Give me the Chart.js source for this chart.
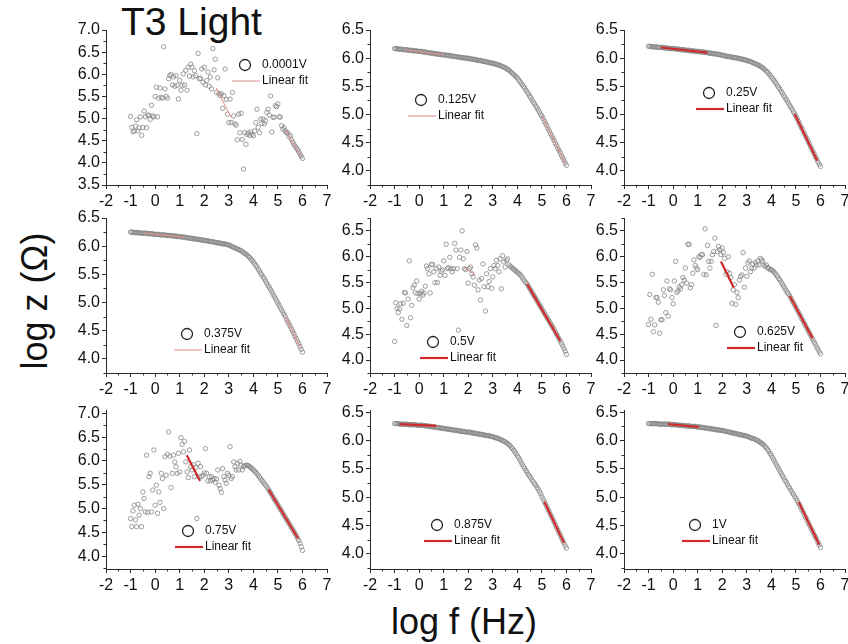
<!DOCTYPE html>
<html>
<head>
<meta charset="utf-8">
<script src="https://cdn.jsdelivr.net/npm/chart.js@4.4.1/dist/chart.umd.min.js"></script>
<style>
  html, body { margin: 0; padding: 0; background: #fff; }
  #page { position: relative; width: 848px; height: 644px; overflow: hidden;
          font-family: "Liberation Sans", Arial, sans-serif; color: #111; }
  .lbl { position: absolute; white-space: nowrap; line-height: 1; }
</style>
</head>
<body>
<div id="page">
  <div class="lbl" style="left:121px; top:2px; font-size:39px;">T3 Light</div>
  <div class="lbl" style="left:35px; top:301px; font-size:36px; transform:translate(-50%,-50%) rotate(-90deg);">log z (Ω)</div>
  <div class="lbl" style="left:464px; top:622px; font-size:36px; transform:translate(-50%,-50%);">log f (Hz)</div>
</div>
<script>
// ---- measured impedance, log10 |Z| versus log10 f, one array per bias voltage ----
const logF = [
  -1,-0.95,-0.9,-0.85,-0.8,-0.75,-0.7,-0.65,-0.6,-0.55,-0.5,-0.45,-0.4,-0.35,-0.3,-0.25,-0.2,-0.15,-0.1,-0.05,
  0,0.05,0.1,0.15,0.2,0.25,0.3,0.35,0.4,0.45,0.5,0.55,0.6,0.65,0.7,0.75,0.8,0.85,0.9,0.95,
  1,1.05,1.1,1.15,1.2,1.25,1.3,1.35,1.4,1.45,1.5,1.55,1.6,1.65,1.7,1.75,1.8,1.85,1.9,1.95,
  2,2.05,2.1,2.15,2.2,2.25,2.3,2.35,2.4,2.45,2.5,2.55,2.6,2.65,2.7,2.75,2.8,2.85,2.9,2.95,
  3,3.05,3.1,3.15,3.2,3.25,3.3,3.35,3.4,3.45,3.5,3.55,3.6,3.65,3.7,3.75,3.8,3.85,3.9,3.95,
  4,4.05,4.1,4.15,4.2,4.25,4.3,4.35,4.4,4.45,4.5,4.55,4.6,4.65,4.7,4.75,4.8,4.85,4.9,4.95,
  5,5.05,5.1,5.15,5.2,5.25,5.3,5.35,5.4,5.45,5.5,5.55,5.6,5.65,5.7,5.75,5.8,5.85,5.9,5.95,
  6
];

const logZ_0p0001V = [
  5.05,4.80,4.70,4.72,4.83,4.97,4.72,4.79,5.04,4.62,4.80,5.17,5.04,4.79,5.08,5.07,4.98,5.30,5.06,5.04,
  5.50,5.71,5.04,5.46,5.69,5.48,5.46,6.62,5.67,5.50,5.46,5.90,5.97,6.00,5.76,5.94,5.73,5.97,5.75,5.44,
  5.86,5.64,5.75,6.01,5.76,6.09,5.64,6.16,5.96,6.23,6.16,5.94,6.08,5.97,4.66,6.47,5.90,5.91,6.12,5.82,
  6.16,5.76,5.86,6.05,5.73,5.94,5.67,6.58,6.10,6.34,5.59,5.92,5.56,5.52,5.56,5.23,5.52,6.12,5.43,5.10,
  4.91,5.44,4.91,5.59,5.06,4.88,4.85,4.52,5.10,4.68,5.12,4.53,3.86,4.68,4.42,4.64,4.68,4.62,4.70,4.64,
  4.61,4.72,4.91,5.21,4.80,4.68,4.99,4.89,4.99,4.88,4.95,5.14,5.21,5.08,5.51,4.70,5.03,5.03,5.29,5.27,
  5.33,5.04,5.03,4.84,4.76,4.80,4.72,4.68,4.68,4.59,4.62,4.53,4.47,4.42,4.38,4.34,4.30,4.25,4.20,4.15,
  4.10
];
const logZ_0p125V = [
  6.17,6.17,6.17,6.16,6.16,6.16,6.16,6.15,6.15,6.15,6.15,6.14,6.14,6.14,6.14,6.13,6.13,6.13,6.13,6.12,
  6.12,6.12,6.12,6.11,6.11,6.11,6.10,6.10,6.10,6.09,6.09,6.09,6.08,6.08,6.08,6.07,6.07,6.07,6.06,6.06,
  6.06,6.06,6.05,6.05,6.05,6.04,6.04,6.04,6.03,6.03,6.03,6.02,6.02,6.02,6.01,6.01,6.01,6.00,6.00,6.00,
  6.00,5.99,5.99,5.98,5.98,5.98,5.97,5.97,5.96,5.96,5.96,5.95,5.95,5.94,5.94,5.93,5.93,5.92,5.92,5.91,
  5.91,5.90,5.90,5.89,5.88,5.88,5.87,5.86,5.85,5.84,5.83,5.82,5.80,5.79,5.77,5.75,5.73,5.71,5.69,5.67,
  5.65,5.62,5.59,5.56,5.53,5.50,5.47,5.43,5.40,5.37,5.33,5.30,5.26,5.22,5.19,5.15,5.12,5.08,5.04,5.00,
  4.97,4.93,4.88,4.84,4.80,4.75,4.71,4.66,4.62,4.58,4.54,4.49,4.45,4.40,4.36,4.32,4.27,4.23,4.19,4.14,
  4.10
];
const logZ_0p25V = [
  6.21,6.21,6.21,6.20,6.20,6.20,6.20,6.20,6.19,6.19,6.19,6.19,6.19,6.18,6.18,6.18,6.18,6.17,6.17,6.17,
  6.17,6.17,6.16,6.16,6.16,6.16,6.15,6.15,6.15,6.15,6.14,6.14,6.14,6.14,6.13,6.13,6.13,6.13,6.12,6.12,
  6.12,6.12,6.11,6.11,6.11,6.11,6.10,6.10,6.10,6.09,6.09,6.09,6.08,6.08,6.08,6.07,6.07,6.07,6.06,6.06,
  6.05,6.05,6.04,6.04,6.03,6.03,6.03,6.02,6.02,6.01,6.01,6.01,6.00,6.00,5.99,5.99,5.98,5.98,5.97,5.97,
  5.96,5.95,5.95,5.94,5.93,5.92,5.91,5.90,5.89,5.88,5.87,5.86,5.84,5.83,5.81,5.79,5.77,5.75,5.72,5.70,
  5.67,5.64,5.61,5.58,5.55,5.51,5.48,5.45,5.41,5.38,5.34,5.31,5.27,5.24,5.20,5.16,5.13,5.09,5.05,5.01,
  4.97,4.93,4.88,4.84,4.79,4.75,4.70,4.66,4.61,4.57,4.52,4.48,4.43,4.39,4.34,4.30,4.25,4.21,4.16,4.12,
  4.08
];
const logZ_0p375V = [
  6.25,6.25,6.25,6.24,6.24,6.24,6.24,6.24,6.23,6.23,6.23,6.23,6.23,6.23,6.22,6.22,6.22,6.22,6.22,6.21,
  6.21,6.21,6.21,6.21,6.20,6.20,6.20,6.20,6.20,6.19,6.19,6.19,6.19,6.19,6.18,6.18,6.18,6.18,6.17,6.17,
  6.17,6.17,6.16,6.16,6.16,6.15,6.15,6.15,6.14,6.14,6.14,6.13,6.13,6.13,6.12,6.12,6.12,6.11,6.11,6.11,
  6.10,6.10,6.10,6.09,6.09,6.08,6.08,6.08,6.07,6.07,6.06,6.06,6.06,6.05,6.05,6.04,6.04,6.04,6.03,6.03,
  6.02,6.01,6.00,5.99,5.98,5.97,5.96,5.95,5.94,5.93,5.92,5.90,5.89,5.87,5.86,5.84,5.82,5.80,5.77,5.75,
  5.72,5.69,5.66,5.63,5.59,5.56,5.52,5.49,5.45,5.42,5.38,5.34,5.30,5.27,5.23,5.19,5.15,5.11,5.07,5.03,
  4.99,4.95,4.91,4.87,4.83,4.79,4.75,4.70,4.66,4.62,4.58,4.53,4.49,4.45,4.40,4.36,4.31,4.27,4.22,4.17,
  4.12
];
const logZ_0p5V = [
  4.36,5.11,5.00,4.92,4.99,5.09,4.79,5.10,5.31,5.30,4.67,5.18,5.92,4.82,5.06,5.40,5.45,5.30,5.53,5.29,
  5.18,5.29,5.33,5.26,5.30,5.43,5.82,5.77,5.67,5.30,5.85,5.85,5.71,5.50,5.77,5.50,5.80,5.64,5.72,5.75,
  5.92,5.64,6.24,5.77,5.79,5.99,5.77,5.71,5.77,6.26,6.13,5.77,4.58,5.99,6.13,6.50,5.96,5.77,5.75,6.10,
  5.49,5.77,5.80,5.67,5.61,5.45,6.23,6.17,5.36,5.55,5.16,5.58,5.86,5.42,4.95,5.67,5.42,5.52,5.77,5.39,
  5.61,5.83,5.77,5.93,5.83,5.71,5.96,5.38,6.02,5.90,5.80,5.93,5.96,5.85,5.82,5.80,5.78,5.76,5.74,5.72,
  5.70,5.68,5.66,5.63,5.60,5.56,5.53,5.50,5.47,5.43,5.39,5.35,5.31,5.27,5.23,5.19,5.15,5.11,5.07,5.03,
  4.99,4.95,4.91,4.87,4.83,4.79,4.75,4.71,4.67,4.63,4.59,4.54,4.50,4.46,4.41,4.37,4.32,4.27,4.22,4.17,
  4.11
];
const logZ_0p625V = [
  4.69,5.27,4.79,5.66,4.55,4.68,5.21,5.21,5.12,4.52,4.78,4.78,5.36,5.25,4.92,5.53,4.85,5.38,5.36,5.21,
  5.09,5.53,5.91,5.31,5.34,5.42,5.38,5.46,5.60,5.55,5.78,5.49,6.24,6.24,5.40,5.46,5.68,5.94,5.83,5.78,
  5.75,6.00,5.99,6.04,6.04,5.66,6.54,5.65,6.22,5.91,5.78,5.91,6.04,6.10,6.36,4.67,6.10,6.20,6.14,6.04,
  6.17,6.08,5.97,5.66,5.71,6.00,5.68,5.60,5.10,5.36,5.46,5.08,5.31,5.21,5.55,5.62,5.65,6.08,5.41,5.78,
  5.62,5.88,5.92,5.71,5.78,5.86,5.78,5.89,5.84,5.92,5.84,5.97,5.94,5.91,5.84,5.81,5.84,5.78,5.78,5.75,
  5.75,5.73,5.71,5.68,5.65,5.62,5.58,5.55,5.51,5.47,5.43,5.39,5.35,5.31,5.28,5.24,5.20,5.15,5.11,5.06,
  5.02,4.97,4.93,4.88,4.84,4.79,4.75,4.70,4.66,4.61,4.57,4.52,4.48,4.43,4.39,4.34,4.30,4.25,4.21,4.16,
  4.12
];
const logZ_0p75V = [
  4.79,4.62,4.95,5.07,4.76,4.62,5.09,4.86,5.00,4.62,5.35,5.21,4.93,6.12,4.92,5.67,5.74,4.93,5.39,6.23,
  5.07,5.49,4.90,5.35,5.13,5.74,5.63,5.00,6.09,5.70,6.14,6.61,6.10,5.44,5.74,6.12,5.98,5.88,5.74,6.16,
  5.77,6.49,6.35,6.19,6.41,5.98,5.77,5.65,6.23,5.88,5.81,5.92,5.67,5.86,4.79,5.95,5.67,5.88,5.67,5.70,
  5.75,6.26,5.74,5.58,5.67,5.58,5.67,5.60,5.63,5.55,5.62,5.81,5.49,5.42,5.34,5.84,5.67,5.60,5.53,5.74,
  5.70,6.30,5.63,5.67,5.98,5.88,5.81,5.95,5.81,5.99,5.91,5.81,5.88,5.90,5.91,5.91,5.90,5.88,5.86,5.84,
  5.81,5.79,5.76,5.73,5.70,5.66,5.62,5.59,5.56,5.52,5.49,5.46,5.41,5.37,5.33,5.29,5.24,5.20,5.16,5.12,
  5.07,5.03,4.99,4.95,4.90,4.86,4.82,4.77,4.73,4.69,4.65,4.60,4.56,4.52,4.47,4.43,4.38,4.33,4.27,4.20,
  4.12
];
const logZ_0p875V = [
  6.30,6.30,6.30,6.30,6.29,6.29,6.29,6.29,6.29,6.29,6.29,6.28,6.28,6.28,6.28,6.28,6.28,6.28,6.27,6.27,
  6.27,6.27,6.27,6.27,6.26,6.26,6.26,6.26,6.25,6.25,6.25,6.24,6.24,6.24,6.23,6.23,6.23,6.22,6.22,6.22,
  6.21,6.21,6.21,6.20,6.20,6.20,6.19,6.19,6.19,6.18,6.18,6.18,6.17,6.17,6.17,6.16,6.16,6.16,6.15,6.15,
  6.15,6.15,6.14,6.14,6.13,6.13,6.13,6.12,6.12,6.11,6.11,6.11,6.10,6.10,6.09,6.09,6.09,6.08,6.08,6.07,
  6.07,6.06,6.05,6.05,6.04,6.03,6.02,6.01,6.00,5.99,5.98,5.96,5.95,5.93,5.91,5.88,5.86,5.83,5.80,5.77,
  5.73,5.70,5.66,5.62,5.58,5.54,5.51,5.47,5.44,5.40,5.37,5.34,5.30,5.27,5.24,5.21,5.17,5.14,5.10,5.06,
  5.01,4.97,4.92,4.88,4.83,4.78,4.74,4.69,4.65,4.60,4.56,4.51,4.46,4.42,4.37,4.33,4.28,4.23,4.19,4.14,
  4.10
];
const logZ_1V = [
  6.30,6.30,6.30,6.30,6.30,6.30,6.30,6.30,6.29,6.29,6.29,6.29,6.29,6.29,6.29,6.29,6.29,6.29,6.28,6.28,
  6.28,6.28,6.28,6.28,6.27,6.27,6.27,6.27,6.27,6.26,6.26,6.26,6.26,6.26,6.25,6.25,6.25,6.25,6.25,6.24,
  6.24,6.24,6.24,6.23,6.23,6.23,6.22,6.22,6.22,6.21,6.21,6.21,6.20,6.20,6.20,6.19,6.19,6.19,6.18,6.18,
  6.18,6.17,6.17,6.16,6.16,6.15,6.15,6.14,6.14,6.13,6.13,6.12,6.12,6.11,6.11,6.10,6.10,6.09,6.09,6.08,
  6.08,6.07,6.06,6.05,6.04,6.04,6.03,6.02,6.01,6.00,5.98,5.97,5.95,5.94,5.92,5.89,5.87,5.84,5.81,5.77,
  5.74,5.70,5.66,5.62,5.58,5.54,5.50,5.46,5.42,5.38,5.34,5.30,5.27,5.23,5.19,5.16,5.12,5.08,5.05,5.01,
  4.98,4.94,4.90,4.86,4.82,4.77,4.73,4.68,4.64,4.60,4.55,4.51,4.46,4.42,4.38,4.33,4.29,4.25,4.20,4.16,
  4.11
];

const voltageLabels = ['0.0001V', '0.125V', '0.25V', '0.375V', '0.5V', '0.625V', '0.75V', '0.875V', '1V'];

// linear-fit segments, each [logF start, logZ start, logF end, logZ end]
const fit_0p0001V = [[2.49, 5.69, 3.10, 5.02], [5.33, 4.72, 5.94, 4.13]];
const fit_0p125V  = [[-0.55, 6.14, 1.00, 6.06], [5.00, 4.97, 5.95, 4.14]];
const fit_0p25V   = [[-0.50, 6.19, 1.40, 6.10], [4.95, 5.01, 5.87, 4.18]];
const fit_0p375V  = [[-0.42, 6.23, 1.20, 6.16], [5.30, 4.75, 5.90, 4.22]];
const fit_0p5V    = [[1.85, 5.78, 2.25, 5.66], [4.40, 5.47, 5.75, 4.37]];
const fit_0p625V  = [[1.95, 5.91, 2.47, 5.40], [4.75, 5.24, 5.68, 4.42]];
const fit_0p75V   = [[1.29, 6.12, 1.83, 5.58], [4.62, 5.40, 5.82, 4.37]];
const fit_0p875V  = [[-0.80, 6.29, 0.70, 6.26], [5.10, 4.92, 5.90, 4.19]];
const fit_1V      = [[-0.20, 6.29, 1.05, 6.24], [5.12, 4.91, 5.95, 4.16]];

// tick labels
const xTickLabels = [-2, -1, 0, 1, 2, 3, 4, 5, 6, 7];
const yTicks35to70 = [3.5, 4.0, 4.5, 5.0, 5.5, 6.0, 6.5, 7.0];
const yTicks40to65 = [4.0, 4.5, 5.0, 5.5, 6.0, 6.5];
const yTicks40to70 = [4.0, 4.5, 5.0, 5.5, 6.0, 6.5, 7.0];

// axis ranges (log z) per panel, and the shared log f range
const yMin = [3.5, 3.75, 3.75, 3.75, 3.75, 3.75, 3.73, 3.73, 3.73];
const yMax = [7.0, 6.5, 6.5, 6.5, 6.75, 6.75, 7.07, 6.54, 6.54];
const xMin = -2, xMax = 7;

const series = [logZ_0p0001V, logZ_0p125V, logZ_0p25V, logZ_0p375V, logZ_0p5V,
                logZ_0p625V, logZ_0p75V, logZ_0p875V, logZ_1V];
const fits = [fit_0p0001V, fit_0p125V, fit_0p25V, fit_0p375V, fit_0p5V,
              fit_0p625V, fit_0p75V, fit_0p875V, fit_1V];
const yTickSets = [yTicks35to70, yTicks40to65, yTicks40to65, yTicks40to65, yTicks40to65,
                   yTicks40to65, yTicks40to70, yTicks40to65, yTicks40to65];

// ---- layout and styling ----
const COL_LEFT = [106, 370, 624];
const ROW_TOP = [30, 218, 410];
const ROW_H = [155, 155, 159];
const PLOT_W = 221;
const YW = 52, XH = 30, PT = 12, PR = 12;
const AXIS = '#2b2b2b';
const MARK = '#858585';
const FONT = '"Liberation Sans", Arial, sans-serif';
const FIT_STYLE = {
  thin:  { color: '#e48a8a', width: 1 },
  thick: { color: '#d02a2a', width: 2.2 }
};
// style of each fit segment, and of the legend line, per panel
const fitStyles = [
  ['thin', 'thin'], ['thin', 'thin'], ['thick', 'thick'], ['thin', 'thin'], ['thin', 'thick'],
  ['thick', 'thick'], ['thick', 'thick'], ['thick', 'thick'], ['thick', 'thick']
];
const legendStyle = ['thin', 'thin', 'thick', 'thin', 'thick', 'thick', 'thick', 'thick', 'thick'];
// legend marker centre, offset from the plot area's top-left corner
const legendPos = [[139, 35], [51, 70], [85, 63], [81, 116], [63, 124], [116, 114], [82, 121], [67, 115], [71, 115]];

Chart.defaults.font.family = FONT;

// short unlabelled ticks half-way between the labelled ones
const minorTicks = {
  id: 'minorTicks',
  afterDraw(chart) {
    const { ctx, chartArea: a, scales: { x, y } } = chart;
    ctx.save();
    ctx.strokeStyle = AXIS;
    ctx.lineWidth = 1;
    ctx.beginPath();
    for (let k = 0; k < x.ticks.length - 1; k++) {
      const v = (x.ticks[k].value + x.ticks[k + 1].value) / 2;
      const px = Math.round(x.getPixelForValue(v)) + 0.5;
      ctx.moveTo(px, a.bottom);
      ctx.lineTo(px, a.bottom + 2.5);
    }
    const vals = new Set();
    y.ticks.forEach(t => {
      [t.value - 0.25, t.value + 0.25].forEach(v => {
        if (v >= y.min - 1e-9 && v <= y.max + 1e-9) vals.add(v.toFixed(2));
      });
    });
    vals.forEach(s => {
      const py = Math.round(y.getPixelForValue(+s)) + 0.5;
      ctx.moveTo(a.left, py);
      ctx.lineTo(a.left - 2.5, py);
    });
    ctx.stroke();
    ctx.restore();
  }
};

// in-plot legend: open circle for the data, line for the fit
function legendPlugin(i) {
  return {
    id: 'panelLegend',
    afterDraw(chart) {
      const { ctx, chartArea: a } = chart;
      const cx = a.left + legendPos[i][0], cy = a.top + legendPos[i][1];
      ctx.save();
      ctx.strokeStyle = '#222';
      ctx.lineWidth = 1.3;
      ctx.beginPath();
      ctx.arc(cx, cy, 5.5, 0, Math.PI * 2);
      ctx.stroke();
      const st = FIT_STYLE[legendStyle[i]];
      ctx.strokeStyle = st.color;
      ctx.lineWidth = st.width;
      ctx.beginPath();
      ctx.moveTo(cx - 13, cy + 16);
      ctx.lineTo(cx + 15, cy + 16);
      ctx.stroke();
      ctx.fillStyle = '#111';
      ctx.font = '12px ' + FONT;
      ctx.textAlign = 'left';
      ctx.textBaseline = 'middle';
      ctx.fillText(voltageLabels[i], cx + 17, cy);
      ctx.fillText('Linear fit', cx + 17, cy + 16);
      ctx.restore();
    }
  };
}

function axisCommon() {
  return {
    grid: { drawOnChartArea: false, drawTicks: true, tickLength: 4, color: AXIS, tickColor: AXIS, tickWidth: 1 },
    border: { display: true, color: AXIS, width: 1 }
  };
}

const page = document.getElementById('page');

series.forEach((zs, i) => {
  const col = i % 3, row = Math.floor(i / 3);
  const left = COL_LEFT[col], top = ROW_TOP[row], h = ROW_H[row];
  const cv = document.createElement('canvas');
  cv.width = YW + PLOT_W + PR;
  cv.height = PT + h + XH;
  cv.style.cssText = 'position:absolute;left:' + (left - YW) + 'px;top:' + (top - PT) + 'px;width:' +
                     cv.width + 'px;height:' + cv.height + 'px;';
  page.appendChild(cv);

  const datasets = fits[i].map((s, k) => {
    const st = FIT_STYLE[fitStyles[i][k]];
    return {
      data: [{ x: s[0], y: s[1] }, { x: s[2], y: s[3] }],
      showLine: true, pointRadius: 0, borderColor: st.color, borderWidth: st.width, order: 0
    };
  });
  datasets.push({
    data: logF.map((x, j) => ({ x: x, y: zs[j] })),
    showLine: false, pointRadius: 2.2, pointBorderWidth: 0.8,
    pointBorderColor: MARK, pointBackgroundColor: 'rgba(0,0,0,0)', order: 1
  });

  new Chart(cv, {
    type: 'scatter',
    data: { datasets },
    options: {
      responsive: false, animation: false, devicePixelRatio: 1,
      layout: { padding: { top: PT, right: PR, bottom: 0, left: 0 } },
      plugins: { legend: { display: false }, tooltip: { enabled: false } },
      scales: {
        x: Object.assign(axisCommon(), {
          type: 'linear', min: xMin, max: xMax,
          afterBuildTicks(s) { s.ticks = xTickLabels.map(v => ({ value: v })); },
          afterFit(s) { s.height = XH; },
          ticks: { autoSkip: false, maxRotation: 0, padding: 3, color: '#111',
                   font: { size: 16 }, callback: v => String(v) }
        }),
        y: Object.assign(axisCommon(), {
          type: 'linear', min: yMin[i], max: yMax[i],
          afterBuildTicks(s) { s.ticks = yTickSets[i].map(v => ({ value: v })); },
          afterFit(s) { s.width = YW; },
          ticks: { autoSkip: false, padding: 2, color: '#111',
                   font: { size: 16 }, callback: v => Number(v).toFixed(1) }
        })
      }
    },
    plugins: [minorTicks, legendPlugin(i)]
  });
});
</script>
</body>
</html>
